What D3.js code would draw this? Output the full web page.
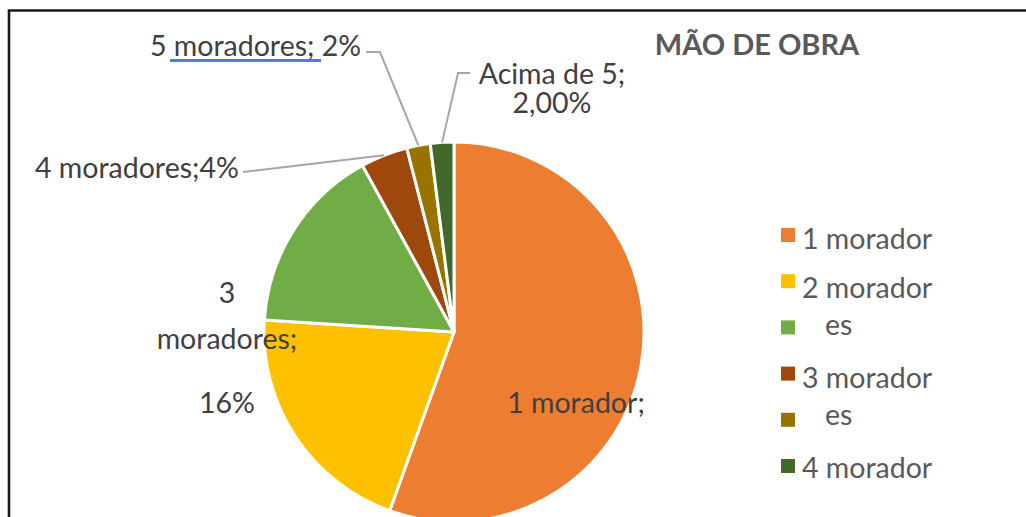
<!DOCTYPE html>
<html>
<head>
<meta charset="utf-8">
<script src="https://d3js.org/d3.v7.min.js"></script>
<style>
  body { margin: 0; background: #fff; }
  svg { display: block; font-family: Lato, "Open Sans", sans-serif; }
  .data-label { fill: #404040; font-size: 28.5px; }
  .legend-label { fill: #595959; font-size: 28.5px; }
  .leader { fill: none; stroke: #a6a6a6; stroke-width: 2; }
</style>
</head>
<body>
<div id="chart"></div>
<script>
// values (percent of households)
const categories = ['1 morador', '2 moradores', '3 moradores', '4 moradores', '5 moradores', 'Acima de 5'];
const values = [55.5, 20.5, 16, 4, 2, 2];
const colors = ['#ED7D31', '#FFC000', '#70AD47', '#9E480E', '#997300', '#43682B'];
// label text as it shows in the chart (Excel wrapped / clipped some of them)
const labelLines = [['1 morador;'], [], ['3', 'moradores;', '16%'], ['4 moradores;4%'], ['5 moradores; 2%'], ['Acima de 5;', '2,00%']];
const legendLines = ['1 morador', '2 morador', 'es', '3 morador', 'es', '4 morador'];
const title = 'MÃO DE OBRA';

const width = 1026, height = 517;
const cx = 454, cy = 332, radius = 190;

const svg = d3.select('#chart').append('svg')
    .attr('width', width)
    .attr('height', height);

// frame of the copied chart (top and left edges only are visible)
svg.append('path')
    .attr('d', `M9,${height} V10.5 H${width}`)
    .attr('fill', 'none')
    .attr('stroke', '#1a1a1a')
    .attr('stroke-width', 2.6);

const pie = d3.pie().sort(null).value(d => d);
const arcs = pie(values);
const arc = d3.arc().innerRadius(0).outerRadius(radius);
const edgeArc = d3.arc().innerRadius(radius).outerRadius(radius);

const chart = svg.append('g').attr('transform', `translate(${cx},${cy})`);

chart.selectAll('.slice')
    .data(arcs)
    .join('path')
    .attr('class', 'slice')
    .attr('d', arc)
    .attr('fill', (d, i) => colors[i])
    .attr('stroke', '#fff')
    .attr('stroke-width', 3)
    .attr('stroke-linejoin', 'round');

// title
svg.append('text')
    .attr('x', 757)
    .attr('y', 55)
    .attr('text-anchor', 'middle')
    .attr('fill', '#595959')
    .attr('font-size', 29)
    .attr('font-weight', 'bold')
    .text(title);

// data label placement (layout only)
const labelPos = [
    { x: 576, y: 413, anchor: 'middle', lh: 0 },
    null,
    { x: 227, y: 303, anchor: 'middle', lh: [0, 46, 110] },
    { x: 35, y: 178, anchor: 'start', lh: [0], elbow: [[243, 172]] },
    { x: 150, y: 56, anchor: 'start', lh: [0], elbow: [[366, 52], [380, 52]] },
    { x: 552, y: 84, anchor: 'middle', lh: [0, 29], elbow: [[470, 73], [458, 73]] }
];

arcs.forEach((a, i) => {
    const p = labelPos[i];
    if (!p) return;
    const lines = labelLines[i];
    const t = svg.append('text')
        .attr('class', 'data-label')
        .attr('text-anchor', p.anchor);
    lines.forEach((line, j) => {
        t.append('tspan')
            .attr('x', p.x)
            .attr('y', p.y + (Array.isArray(p.lh) ? p.lh[j] : 0))
            .text(line);
    });
    if (p.elbow) {
        const [ex, ey] = edgeArc.centroid(a);
        const pts = p.elbow.concat([[cx + ex, cy + ey]]);
        svg.append('path')
            .attr('class', 'leader')
            .attr('d', d3.line()(pts));
    }
});

// blue spell-check underline under "moradores;"
svg.append('line')
    .attr('x1', 170).attr('x2', 321)
    .attr('y1', 60.5).attr('y2', 60.5)
    .attr('stroke', '#4a7fe0')
    .attr('stroke-width', 3);

// legend: markers spaced evenly, wrapped text does not line up with them
const markerY = d3.scalePoint()
    .domain(categories)
    .range([228, 459]);

svg.selectAll('.legend-marker')
    .data(categories)
    .join('rect')
    .attr('class', 'legend-marker')
    .attr('x', 781)
    .attr('y', d => markerY(d))
    .attr('width', 14)
    .attr('height', 14)
    .attr('fill', (d, i) => colors[i]);

const legendY = [249, 298, 335, 388, 425, 478];
svg.selectAll('.legend-label')
    .data(legendLines)
    .join('text')
    .attr('class', 'legend-label')
    .attr('x', d => d === 'es' ? 825 : 802)
    .attr('y', (d, i) => legendY[i])
    .text(d => d);
</script>
</body>
</html>
